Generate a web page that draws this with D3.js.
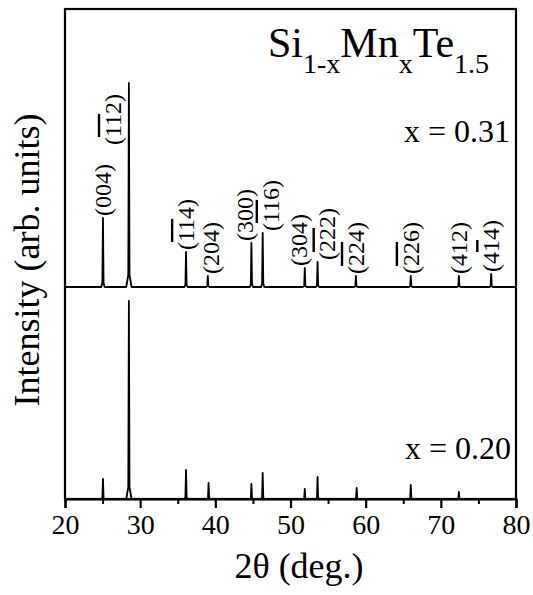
<!DOCTYPE html>
<html>
<head>
<meta charset="utf-8">
<script src="https://cdn.jsdelivr.net/npm/d3@7"></script>
</head>
<body style="margin:0">
<svg id="chart" width="533" height="595"></svg>
<script>
// ---- data ----
// x = 0.31 sample: peak positions (2θ, deg) and intensities (arb. units)
const peaks031Pos = [25.05, 28.5, 36.1, 39.0, 44.8, 46.3, 51.9, 53.6, 58.7, 66.0, 72.4, 76.7];
const peaks031Int = [690, 2040, 350, 110, 440, 540, 190, 250, 110, 110, 110, 130];
// hkl labels of the x = 0.31 peaks; digits marked with "~" carry an overbar
const hklLabels = ["004", "~1~12", "~1~14", "204", "300", "~1~16", "304", "~2~22", "~2~24", "~2~26", "412", "4~14"];
// x = 0.20 sample
const peaks020Pos = [25.05, 28.5, 36.1, 39.1, 44.8, 46.3, 51.9, 53.6, 58.8, 66.0, 72.4];
const peaks020Int = [200, 1980, 290, 160, 150, 260, 100, 220, 110, 140, 70];
const offset031 = 2120;          // vertical offset of the upper pattern
const seriesLabels = ["x = 0.31", "x = 0.20"];
const xTicks = [20, 30, 40, 50, 60, 70, 80];
const xMinorTicks = [25, 35, 45, 55, 65, 75];

// ---- layout ----
const svg = d3.select("#chart");
const L = 65, R = 516, T = 9, B = 499;
const x = d3.scaleLinear().domain([20, 80]).range([L, R]);
const y = d3.scaleLinear().domain([0, 4900]).range([B, T]);

function serif(sel, size) {
  return sel.style("font-family", '"Liberation Serif"').attr("font-size", size).attr("fill", "#000");
}

function profile(pos, ints, off) {
  const pts = [[20, off]];
  pos.forEach((p, i) => {
    const h = ints[i];
    const hw = h > 1000 ? 0.35 : 0.22;
    pts.push([p - hw, off], [p - 0.08, off + h * 0.06], [p, off + h], [p + 0.08, off + h * 0.06], [p + hw, off]);
  });
  pts.push([80, off]);
  return pts;
}
const line = d3.line().x(d => x(d[0])).y(d => y(d[1]));

svg.append("path").attr("d", line(profile(peaks020Pos, peaks020Int, 0)))
  .attr("fill", "none").attr("stroke", "#000").attr("stroke-width", 1.8).attr("stroke-linejoin", "round");
svg.append("path").attr("d", line(profile(peaks031Pos, peaks031Int, offset031)))
  .attr("fill", "none").attr("stroke", "#000").attr("stroke-width", 1.8).attr("stroke-linejoin", "round");

// frame
svg.append("rect").attr("x", L).attr("y", T).attr("width", R - L).attr("height", B - T)
  .attr("fill", "none").attr("stroke", "#000").attr("stroke-width", 2.2);

// x axis
const ax = svg.append("g").attr("transform", `translate(0,${B})`)
  .call(d3.axisBottom(x).tickValues(xTicks).tickSize(9).tickPadding(4).tickFormat(d3.format("d")));
ax.attr("font-family", null).attr("font-size", null);
ax.select(".domain").attr("stroke-width", 2.2);
ax.selectAll(".tick line").attr("stroke-width", 2.2);
serif(ax.selectAll(".tick text"), 28).attr("dy", "0.8em");
const axm = svg.append("g").attr("transform", `translate(0,${B})`)
  .call(d3.axisBottom(x).tickValues(xMinorTicks).tickSize(5).tickFormat(""));
axm.select(".domain").remove();
axm.selectAll(".tick line").attr("stroke-width", 2);

// axis titles
serif(svg.append("text"), 36).attr("x", 299).attr("y", 578).attr("text-anchor", "middle").text("2θ (deg.)");
serif(svg.append("text"), 36).attr("transform", "translate(39,260) rotate(-90)").attr("text-anchor", "middle")
  .text("Intensity (arb. units)");

// compound title
const title = serif(svg.append("text"), 42).attr("x", 268).attr("y", 57);
const parts = [["Si", 0], ["1-x", 1], ["Mn", 0], ["x", 1], ["Te", 0], ["1.5", 1]];
let prevSub = 0;
parts.forEach(([s, sub]) => {
  const dy = sub === prevSub ? 0 : (sub ? 16 : -16);
  title.append("tspan").attr("dy", dy).attr("font-size", sub ? 28 : 42).text(s);
  prevSub = sub;
});

// series labels
serif(svg.append("text"), 32).attr("x", 510).attr("y", 142).attr("text-anchor", "end").text(seriesLabels[0]);
serif(svg.append("text"), 32).attr("x", 511).attr("y", 459).attr("text-anchor", "end").text(seriesLabels[1]);

// hkl labels (layout nudges in pixels, keyed by label index)
const labelDx = {1: -16, 3: 3, 4: -6, 5: 8, 6: -6, 7: 10};
const labelBottom = {1: 145};
hklLabels.forEach((lab, i) => {
  const px = x(peaks031Pos[i]) + (labelDx[i] || 0);
  const py = labelBottom[i] !== undefined ? labelBottom[i] : y(offset031 + peaks031Int[i]) - 2;
  const t = serif(svg.append("text"), 24).attr("transform", `translate(${px},${py}) rotate(-90)`)
    .attr("dy", "0.33em");
  t.append("tspan").text("(");
  for (let k = 0; k < lab.length; k++) {
    if (lab[k] === "~") {
      t.append("tspan").style("text-decoration", "overline").text(lab[k + 1]);
      k++;
    } else {
      t.append("tspan").text(lab[k]);
    }
  }
  t.append("tspan").text(")");
});
</script>
</body>
</html>
